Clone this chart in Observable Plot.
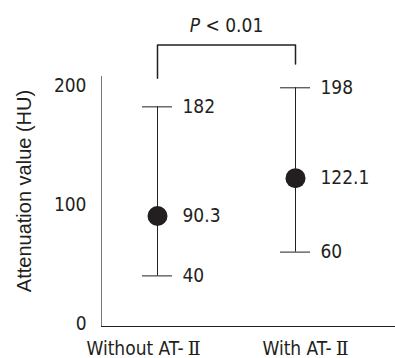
<!DOCTYPE html>
<html><head><meta charset="utf-8">
<script src="https://cdn.jsdelivr.net/npm/d3@7"></script>
<script src="https://cdn.jsdelivr.net/npm/@observablehq/plot@0.6"></script>
<style>body{margin:0;background:#fff} svg{display:block}</style>
</head><body><div id="chart"></div>
<script>
const groups = ["Without AT-Ⅱ", "With AT-Ⅱ"];
const means = [90.3, 122.1];
const lows = [40, 60];
const highs = [182, 198];
const yTicks = [0, 100, 200];
const yLabel = "Attenuation value (HU)";
const pLabel = "P < 0.01";
const bracketLevels = [234, 206, 218]; // top bar, left leg end, right leg end (HU)

const rows = groups.map((g, i) => ({group: g, mean: means[i], low: lows[i], high: highs[i]}));
const caps = rows.flatMap(d => [{group: d.group, v: d.low}, {group: d.group, v: d.high}]);
const bracket = [
  {group: groups[0], v: bracketLevels[1]},
  {group: groups[0], v: bracketLevels[0]},
  {group: groups[1], v: bracketLevels[0]},
  {group: groups[1], v: bracketLevels[2]}
];
const ink = "#231f20";
const font = "'DejaVu Sans Condensed', 'DejaVu Sans', sans-serif";
const fs = 19;

const chart = Plot.plot({
  width: 395,
  height: 358,
  marginTop: 76,
  marginBottom: 32,
  marginLeft: 101,
  marginRight: 0,
  style: {fontFamily: font, fontSize: fs + "px", color: ink, background: "#fff", overflow: "visible"},
  x: {type: "band", domain: groups, range: [88, 364], paddingInner: 0.7826, paddingOuter: 0.3913, axis: null},
  y: {domain: [-2.5, 207.5], axis: null},
  marks: [
    Plot.frame({anchor: "left", stroke: "#777"}),
    Plot.frame({anchor: "bottom", stroke: ink}),
    Plot.axisY({ticks: yTicks, tickSize: 0, tickPadding: 15, label: null, fontSize: fs}),
    Plot.axisX({ticks: [groups[0]], tickSize: 0, tickPadding: 15, dx: -14, label: null, fontSize: fs}),
    Plot.axisX({ticks: [groups[1]], tickSize: 0, tickPadding: 15, dx: 10, label: null, fontSize: fs}),
    Plot.ruleX(rows, {x: "group", y1: "low", y2: "high", stroke: ink}),
    Plot.tickY(caps, {x: "group", y: "v", stroke: ink}),
    Plot.dot(rows, {x: "group", y: "mean", r: 10, fill: ink, stroke: null}),
    Plot.text(caps, {x: "group", y: "v", text: d => String(d.v), textAnchor: "start", dx: 25, fontSize: fs, fill: ink}),
    Plot.text(rows, {x: "group", y: "mean", text: d => String(d.mean), textAnchor: "start", dx: 25, fontSize: fs, fill: ink}),
    Plot.line(bracket, {x: "group", y: "v", stroke: ink}),
    Plot.text([pLabel], {frameAnchor: "top", lineAnchor: "middle", textAnchor: "middle", dx: -22, dy: -51, fontSize: fs, fill: ink}),
    Plot.text([yLabel], {frameAnchor: "left", lineAnchor: "middle", textAnchor: "middle", rotate: -90, dx: -77, dy: -10.5, fontSize: 20, fontFamily: "'Liberation Sans', Arial, sans-serif", fill: ink})
  ]
});

d3.select(chart).selectAll("text").each(function() {
  const s = this.textContent;
  const t = d3.select(this);
  if (s === pLabel) {
    t.text(null);
    t.append("tspan").attr("font-style", "italic").text("P");
    t.append("tspan").text(pLabel.slice(1));
  } else if (groups.includes(s)) {
    const k = s.indexOf("Ⅱ");
    t.text(null);
    t.append("tspan").text(s.slice(0, k));
    t.append("tspan").attr("font-family", "'DejaVu Serif', serif").attr("dx", 4).text(s.slice(k));
  }
});

document.getElementById("chart").append(chart);
</script>
</body></html>
